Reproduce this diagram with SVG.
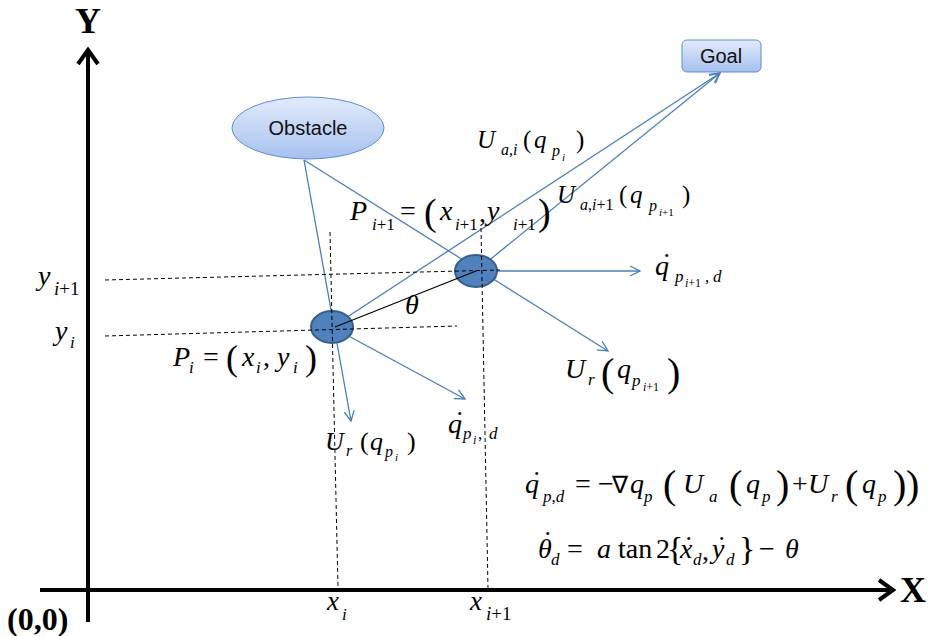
<svg xmlns="http://www.w3.org/2000/svg" width="928" height="636" viewBox="0 0 928 636">
<defs>
<style>
.ax{stroke:#000;stroke-width:4;fill:none}
.dash{stroke:#000;stroke-width:1;stroke-dasharray:4 3;fill:none}
.bl{stroke:#4a7ebb;stroke-width:1.3;fill:none}
.nd{fill:#4f81bd;stroke:#385d8a;stroke-width:2}
.sh{fill:url(#gb);stroke:#5f8dd3;stroke-width:1}
.lbl{font-family:"Liberation Sans",Arial,sans-serif;font-size:20px;fill:#111}
.m{font-family:"Liberation Serif","Times New Roman",serif;font-style:italic;font-size:28px;fill:#000}
.u{font-style:normal}
.s{font-size:17px}
.ss{font-size:12px}
.bold{font-family:"Liberation Serif","Times New Roman",serif;font-weight:bold;fill:#000}
</style>
<linearGradient id="gb" x1="0" y1="0" x2="0" y2="1">
<stop offset="0" stop-color="#e2ebfb"/>
<stop offset="1" stop-color="#a6c1ee"/>
</linearGradient>
<marker id="ah" viewBox="0 0 12 12" refX="11" refY="6" markerWidth="12" markerHeight="12" markerUnits="userSpaceOnUse" orient="auto">
<path d="M1,1 L11,6 L1,11" fill="none" stroke="#4a7ebb" stroke-width="1.3"/>
</marker>
</defs>
<rect width="928" height="636" fill="#fff"/>

<g id="axes">
<line class="ax" x1="88" y1="50" x2="88" y2="622"/>
<polyline class="ax" points="78,64 88,50 98,64"/>
<line class="ax" x1="40" y1="590" x2="893" y2="590"/>
<polyline class="ax" points="879,580 893,590 879,600"/>
<text class="bold" x="88" y="33" font-size="36" text-anchor="middle">Y</text>
<text class="bold" x="913" y="602" font-size="36" text-anchor="middle">X</text>
<text class="bold" x="7" y="630" font-size="32">(0,0)</text>
</g>

<g id="connectors">
<line class="bl" x1="304" y1="160" x2="351" y2="421" marker-end="url(#ah)"/>
<line class="bl" x1="304" y1="160" x2="608" y2="351" marker-end="url(#ah)"/>
<line class="bl" x1="332" y1="327" x2="720" y2="73" marker-end="url(#ah)"/>
<line class="bl" x1="476" y1="271" x2="720" y2="73" marker-end="url(#ah)"/>
<line class="bl" x1="332" y1="327" x2="465" y2="399" marker-end="url(#ah)"/>
<line class="bl" x1="476" y1="271" x2="640" y2="271" marker-end="url(#ah)"/>
</g>

<g id="obstacle">
<ellipse class="sh" cx="308" cy="128" rx="76" ry="31"/>
<text class="lbl" x="308" y="135" text-anchor="middle">Obstacle</text>
</g>
<g id="goal">
<rect class="sh" x="682" y="40" width="79" height="32" rx="5"/>
<text class="lbl" x="721" y="63" text-anchor="middle">Goal</text>
</g>
<g id="p_i">
<ellipse class="nd" cx="332" cy="327" rx="21" ry="16"/>
</g>
<g id="p_i1">
<ellipse class="nd" cx="476" cy="271" rx="21" ry="16"/>
</g>

<g id="guides">
<line class="dash" x1="105" y1="280" x2="500" y2="270"/>
<line class="dash" x1="105" y1="336" x2="457" y2="326"/>
<line class="dash" x1="330" y1="232" x2="338" y2="588"/>
<line class="dash" x1="481" y1="228" x2="488" y2="588"/>
<line x1="335" y1="327" x2="476" y2="271" stroke="#000" stroke-width="1.2"/>
</g>

<g id="labels">
<text class="m"><tspan x="38" y="285">y</tspan><tspan x="54" y="295" font-size="19">i<tspan class="u">+1</tspan></tspan></text>
<text class="m"><tspan x="55" y="340">y</tspan><tspan class="s" x="70" y="348">i</tspan></text>
<text class="m"><tspan x="405" y="314">θ</tspan></text>

<text class="m"><tspan x="173" y="366">P</tspan><tspan class="s" x="189" y="373">i</tspan><tspan class="u" x="203" y="366">=</tspan><tspan class="u" x="226" y="370" font-size="36">(</tspan><tspan x="242" y="366">x</tspan><tspan class="s" x="256" y="373">i</tspan><tspan class="u" x="263" y="366">,</tspan><tspan x="277" y="366">y</tspan><tspan class="s" x="293" y="373">i</tspan><tspan class="u" x="305" y="370" font-size="36">)</tspan></text>

<text class="m"><tspan x="350" y="220">P</tspan><tspan class="s" x="372" y="230">i<tspan class="u">+1</tspan></tspan><tspan class="u" x="400" y="220">=</tspan><tspan class="u" x="424" y="225" font-size="38">(</tspan><tspan x="440" y="220">x</tspan><tspan class="s" x="455" y="230">i<tspan class="u">+1</tspan></tspan><tspan class="u" x="479" y="222">,</tspan><tspan x="487" y="220">y</tspan><tspan class="s" x="513" y="230">i<tspan class="u">+1</tspan></tspan><tspan class="u" x="538" y="225" font-size="38">)</tspan></text>

<text class="m"><tspan x="477" y="148" font-size="25">U</tspan><tspan x="501" y="155" font-size="16">a<tspan class="u">,</tspan>i</tspan><tspan class="u" x="523" y="148" font-size="25">(</tspan><tspan x="534" y="148" font-size="25">q</tspan><tspan x="552" y="156" font-size="16">p</tspan><tspan x="562" y="161" font-size="11">i</tspan><tspan class="u" x="576" y="148" font-size="25">)</tspan></text>

<text class="m"><tspan x="557" y="203" font-size="25">U</tspan><tspan x="580" y="210" font-size="16">a<tspan class="u">,</tspan>i<tspan class="u">+1</tspan></tspan><tspan class="u" x="619" y="203" font-size="25">(</tspan><tspan x="630" y="203" font-size="25">q</tspan><tspan x="649" y="211" font-size="16">p</tspan><tspan x="659" y="216" font-size="11">i<tspan class="u">+1</tspan></tspan><tspan class="u" x="682" y="203" font-size="25">)</tspan></text>

<text class="m"><tspan x="655" y="275">q</tspan><tspan class="u" x="662" y="272">˙</tspan><tspan class="s" x="675" y="282">p</tspan><tspan class="ss" x="685" y="287">i<tspan class="u">+1</tspan></tspan><tspan class="s u" x="705" y="282">,</tspan><tspan class="s" x="713" y="282">d</tspan></text>

<text class="m"><tspan x="565" y="378">U</tspan><tspan class="s" x="588" y="385">r</tspan><tspan class="u" x="601" y="386" font-size="40">(</tspan><tspan x="617" y="378">q</tspan><tspan class="s" x="632" y="386">p</tspan><tspan class="ss" x="643" y="391">i<tspan class="u">+1</tspan></tspan><tspan class="u" x="667" y="386" font-size="40">)</tspan></text>

<text class="m"><tspan x="325" y="450" font-size="26">U</tspan><tspan x="346" y="456" font-size="16">r</tspan><tspan class="u" x="360" y="450" font-size="26">(</tspan><tspan x="370" y="450" font-size="26">q</tspan><tspan x="385" y="457" font-size="16">p</tspan><tspan x="395" y="461" font-size="11">i</tspan><tspan class="u" x="407" y="450" font-size="26">)</tspan></text>

<text class="m"><tspan x="448" y="433">q</tspan><tspan class="u" x="455" y="430">˙</tspan><tspan class="s" x="463" y="439">p</tspan><tspan class="ss" x="473" y="444">i</tspan><tspan class="s u" x="478" y="439">,</tspan><tspan class="s" x="489" y="439">d</tspan></text>

<text class="m"><tspan x="327" y="610" font-size="27">x</tspan><tspan x="342" y="620" font-size="17">i</tspan></text>
<text class="m"><tspan x="470" y="610" font-size="27">x</tspan><tspan x="486" y="620" font-size="19">i<tspan class="u">+1</tspan></tspan></text>

<text class="m"><tspan x="525" y="493">q</tspan><tspan class="u" x="532" y="490">˙</tspan><tspan class="s" x="543" y="502">p<tspan class="u">,</tspan>d</tspan><tspan class="u" x="575" y="493">=</tspan><tspan class="u" x="598" y="493">−</tspan><tspan class="u" x="612" y="493" font-size="24">∇</tspan><tspan x="630" y="493">q</tspan><tspan class="s" x="644" y="502">p</tspan><tspan class="u" x="663" y="498" font-size="40">(</tspan><tspan x="683" y="493">U</tspan><tspan class="s" x="709" y="502">a</tspan><tspan class="u" x="729" y="498" font-size="40">(</tspan><tspan x="746" y="493">q</tspan><tspan class="s" x="762" y="502">p</tspan><tspan class="u" x="776" y="498" font-size="40">)</tspan><tspan class="u" x="792" y="493">+</tspan><tspan x="808" y="493">U</tspan><tspan class="s" x="831" y="502">r</tspan><tspan class="u" x="845" y="498" font-size="40">(</tspan><tspan x="862" y="493">q</tspan><tspan class="s" x="878" y="502">p</tspan><tspan class="u" x="893" y="498" font-size="40">)</tspan><tspan class="u" x="906" y="498" font-size="40">)</tspan></text>

<text class="m"><tspan x="538" y="558">θ</tspan><tspan class="u" x="543" y="550">˙</tspan><tspan class="s" x="551" y="565">d</tspan><tspan class="u" x="567" y="558">=</tspan><tspan x="597" y="558">a</tspan><tspan class="u" x="618" y="558">tan</tspan><tspan class="u" x="656" y="558">2</tspan><tspan class="u" x="667" y="560" font-size="34">{</tspan><tspan x="680" y="558">x</tspan><tspan class="u" x="684" y="555">˙</tspan><tspan class="s" x="693" y="565">d</tspan><tspan class="u" x="702" y="560">,</tspan><tspan x="712" y="558">y</tspan><tspan class="u" x="717" y="555">˙</tspan><tspan class="s" x="726" y="565">d</tspan><tspan class="u" x="739" y="560" font-size="34">}</tspan><tspan class="u" x="759" y="558">−</tspan><tspan x="785" y="558">θ</tspan></text>
</g>
</svg>
